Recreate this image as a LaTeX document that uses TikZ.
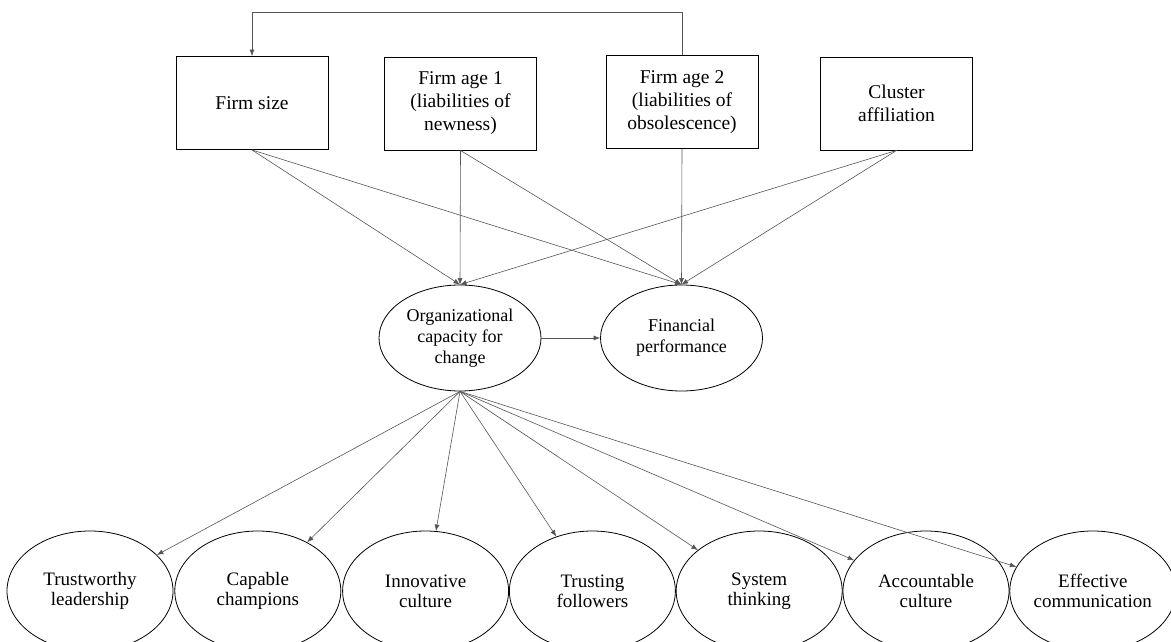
\documentclass[tikz,border=0pt]{standalone}
\usepackage{fontspec}
\setmainfont{Liberation Serif}
\usetikzlibrary{arrows.meta,positioning,shapes.geometric}
\definecolor{wire}{HTML}{555555}

\begin{document}
\begin{tikzpicture}[x=1pt, y=-1pt,
  factor/.style={draw, line width=0.9pt, minimum width=152pt, minimum height=93pt, align=center, font=\fontsize{19.5}{23}\selectfont},
  latent/.style={draw, ellipse, line width=0.8pt, minimum width=162pt, minimum height=106pt, inner xsep=-20pt, inner ysep=-15pt, align=center, font=\fontsize{18}{21}\selectfont},
  dim/.style={draw, ellipse, line width=0.8pt, minimum width=166pt, minimum height=120pt, inner xsep=-20pt, inner ysep=-15pt, align=center, font=\fontsize{19}{20}\selectfont},
  arr/.style={-{Latex[length=6.5pt,width=5pt]}, draw=wire, line width=0.6pt}
]
\useasboundingbox (0,0) rectangle (1171,642);

% controls
\node[factor] (size) at (252,103) {Firm size};
\node[factor] (age1) at (460.5,103.5) {Firm age 1\\(liabilities of\\newness)};
\node[factor] (age2) at (682,102) {Firm age 2\\(liabilities of\\obsolescence)};
\node[factor] (cluster) at (896.5,103.5) {Cluster\\affiliation};

% constructs
\node[latent] (occ) at (460,338) {Organizational\\capacity for\\change};
\node[latent] (fp) at (681.5,338) {Financial\\performance};

% dimensions
\node[dim] (lead) at (90,591) {Trustworthy\\leadership};
\node[dim, right=1pt of lead] (champ) {Capable\\champions};
\node[dim, right=1pt of champ] (innov) {Innovative\\culture};
\node[dim, right=0pt of innov] (follow) {Trusting\\followers};
\node[dim, right=0pt of follow] (system) {System\\thinking};
\node[dim, right=0pt of system] (account) {Accountable\\culture};
\node[dim, right=0pt of account] (comm) {Effective\\communication};

\coordinate (loop) at (252,12);
\draw[arr] (age2.north) |- (loop) -- (size.north);

\draw[arr] (size.south) -- (occ.north);
\draw[arr] (size.south) -- (fp.north);
\draw[arr] (age1.south) -- (occ.north);
\draw[arr] (age1.south) -- (fp.north);
\draw[arr] (age2.south) -- (fp.north);
\draw[arr] (cluster.south) -- (occ.north);
\draw[arr] (cluster.south) -- (fp.north);
\draw[arr] (occ) -- (fp);

\foreach \d in {lead,champ,innov,follow,system,account,comm}
  \draw[arr] (occ.south) -- (\d);
\end{tikzpicture}
\end{document}
